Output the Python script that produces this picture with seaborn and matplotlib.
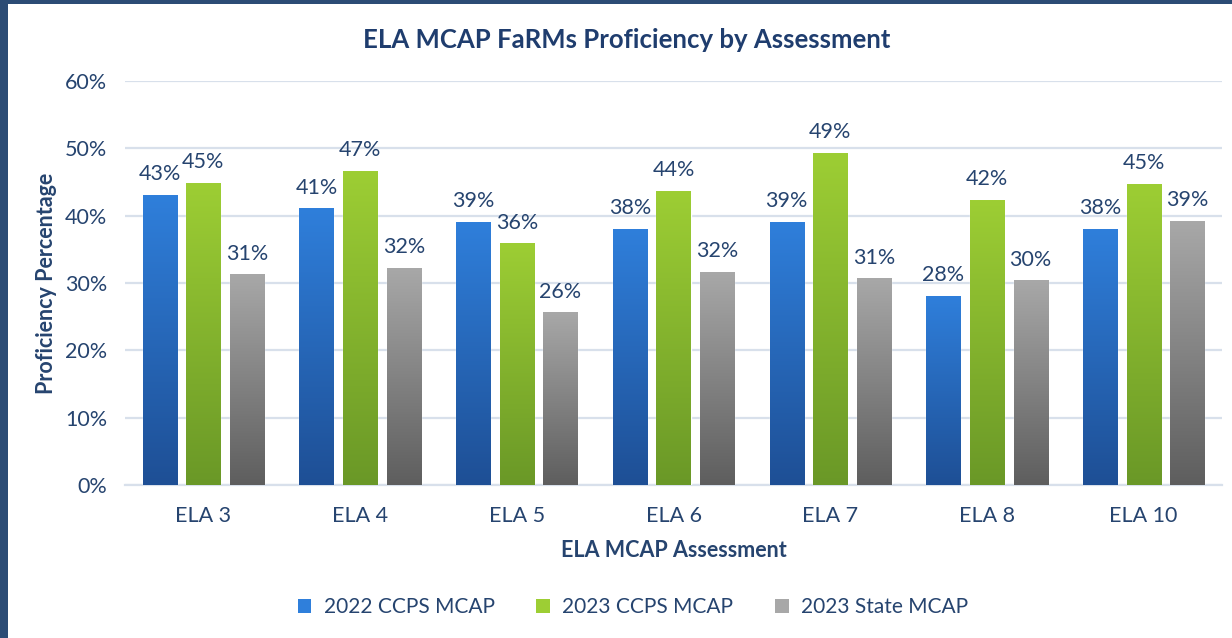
import numpy as np
import pandas as pd
import matplotlib
matplotlib.use("Agg")
import matplotlib.pyplot as plt
import seaborn as sns
from matplotlib.colors import LinearSegmentedColormap
from matplotlib.patches import Patch, Rectangle

# data
assessments = ["ELA 3", "ELA 4", "ELA 5", "ELA 6", "ELA 7", "ELA 8", "ELA 10"]
series = ["2022 CCPS MCAP", "2023 CCPS MCAP", "2023 State MCAP"]
ccps_2022 = [43.0, 41.0, 39.0, 38.0, 39.0, 28.0, 38.0]
ccps_2023 = [44.8, 46.6, 35.8, 43.6, 49.3, 42.3, 44.7]
state_2023 = [31.2, 32.2, 25.6, 31.6, 30.6, 30.3, 39.2]
yticks = [0, 10, 20, 30, 40, 50, 60]

# gradient colours (top, bottom) per series
grad_colors = {
    "2022 CCPS MCAP": ("#2F7FDB", "#1E4F95"),
    "2023 CCPS MCAP": ("#9DCE34", "#6A9827"),
    "2023 State MCAP": ("#A8A8A8", "#5E5E5E"),
}
text_color = "#26446F"

df = pd.DataFrame({
    "Assessment": assessments * 3,
    "Series": [s for s in series for _ in assessments],
    "Pct": ccps_2022 + ccps_2023 + state_2023,
})

sns.set_style("white")
plt.rcParams["font.family"] = ["Lato", "DejaVu Sans"]

fig = plt.figure(figsize=(12.32, 6.38), dpi=100)
fig.patch.set_facecolor("white")
ax = fig.add_axes([125 / 1232, 1 - 485 / 638, 1097 / 1232, 404 / 638])

palette = {s: grad_colors[s][0] for s in series}
sns.barplot(data=df, x="Assessment", y="Pct", hue="Series", palette=palette,
            width=0.836, gap=0.22, legend=False, ax=ax, zorder=3)

ax.set_ylim(0, 60)
ax.set_yticks(yticks)
ax.set_yticklabels([f"{t}%" for t in yticks])
ax.grid(axis="y", color="#D8E0EB", linewidth=1.6, zorder=0)
ax.set_axisbelow(True)
for sp in ["top", "right", "left"]:
    ax.spines[sp].set_visible(False)
ax.spines["bottom"].set_color("#D8E0EB")
ax.spines["bottom"].set_linewidth(1.6)
ax.tick_params(axis="both", length=0, labelsize=15.5, labelcolor=text_color)
ax.tick_params(axis="y", pad=13)
ax.tick_params(axis="x", pad=15)

# vertical gradient inside each bar
xlim = ax.get_xlim()
grad = np.linspace(0, 1, 256).reshape(-1, 1)
for s, cont in zip(series, ax.containers):
    top, bottom = grad_colors[s]
    cmap = LinearSegmentedColormap.from_list(s, [bottom, top])
    for bar in cont:
        x, w, h = bar.get_x(), bar.get_width(), bar.get_height()
        ax.imshow(grad, cmap=cmap, aspect="auto", origin="lower",
                  extent=[x, x + w, 0, h], zorder=4)
    ax.bar_label(cont, labels=[f"{v:.0f}%" for v in cont.datavalues],
                 padding=8, fontsize=15.5, color=text_color)
ax.set_xlim(xlim)
ax.set_ylim(0, 60)

ax.set_xlabel("ELA MCAP Assessment", fontsize=15.5, fontweight="bold", color=text_color)
ax.set_ylabel("Proficiency Percentage", fontsize=15.5, fontweight="bold", color=text_color)
ax.xaxis.set_label_coords(0.5, -0.137)
ax.yaxis.set_label_coords(-0.062, 0.5)

fig.text(627 / 1232, 1 - 40 / 638, "ELA MCAP FaRMs Proficiency by Assessment",
         ha="center", va="center", fontsize=18.5, fontweight="bold", color="#1F3D6E")

handles = [Patch(facecolor=grad_colors[s][0], edgecolor="none", label=s) for s in series]
fig.legend(handles=handles, loc="center", bbox_to_anchor=(633 / 1232, 1 - 607 / 638), ncol=3,
           frameon=False, fontsize=15, labelcolor=text_color, handlelength=0.65,
           handleheight=0.65, columnspacing=2.0, handletextpad=0.6)

# dark frame on the left and top edges
fig.patches.append(Rectangle((0, 0), 8 / 1232, 1, transform=fig.transFigure,
                             facecolor="#2C4C75", edgecolor="none", zorder=10))
fig.patches.append(Rectangle((0, 1 - 4 / 638), 1, 4 / 638, transform=fig.transFigure,
                             facecolor="#2C4C75", edgecolor="none", zorder=10))

fig.savefig("out.png", dpi=100)
